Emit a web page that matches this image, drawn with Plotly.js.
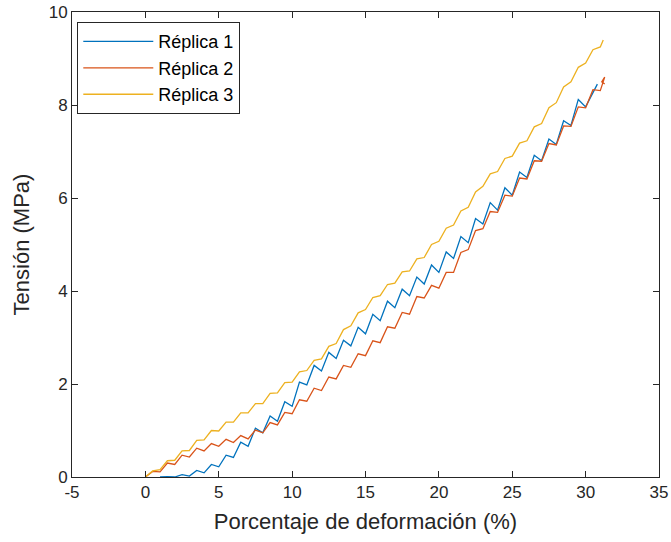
<!DOCTYPE html>
<html>
<head>
<meta charset="utf-8">
<script src="https://cdn.plot.ly/plotly-3.0.1.min.js"></script>
<style>html,body{margin:0;padding:0;background:#fff;}#chart{width:671px;height:542px;}</style>
</head>
<body>
<div id="chart"></div>
<script>
// Réplica 1 (blue)
const r1x = [1.0,1.5,2,2.5,3,3.5,4,4.5,5,5.5,6,6.5,7,7.5,8,8.5,9,9.5,10,10.5,11,11.5,12,12.5,13,13.5,14,14.5,15,15.5,16,16.5,17,17.5,18,18.5,19,19.5,20,20.5,21,21.5,22,22.5,23,23.5,24,24.5,25,25.5,26,26.5,27,27.5,28,28.5,29,29.5,30,30.3,30.8];
const r1y = [0.00,0.01,0.00,0.05,0.02,0.14,0.09,0.27,0.22,0.47,0.42,0.75,0.66,1.05,0.95,1.31,1.20,1.62,1.52,2.04,1.98,2.40,2.28,2.68,2.55,2.94,2.82,3.22,3.08,3.50,3.36,3.78,3.64,4.04,3.90,4.30,4.15,4.56,4.40,4.84,4.70,5.17,5.04,5.56,5.44,5.90,5.74,6.22,6.06,6.56,6.44,6.92,6.80,7.27,7.15,7.66,7.56,8.12,7.96,8.15,8.45];
// Réplica 2 (orange)
const r2x = [0,0.5,1,1.5,2,2.5,3,3.5,4,4.5,5,5.5,6,6.5,7,7.5,8,8.5,9,9.5,10,10.5,11,11.5,12,12.5,13,13.5,14,14.5,15,15.5,16,16.5,17,17.5,18,18.5,19,19.5,20,20.5,21,21.5,22,22.5,23,23.5,24,24.5,25,25.5,26,26.5,27,27.5,28,28.5,29,29.5,30,30.5,31,31.3,31.1,31.3];
const r2y = [0.00,0.12,0.11,0.30,0.27,0.47,0.43,0.62,0.56,0.72,0.66,0.81,0.74,0.89,0.82,1.01,0.95,1.17,1.12,1.39,1.36,1.66,1.63,1.91,1.86,2.15,2.11,2.40,2.36,2.65,2.61,2.93,2.89,3.23,3.20,3.54,3.50,3.88,3.85,4.12,4.06,4.40,4.40,4.83,4.89,5.30,5.34,5.71,5.69,6.06,6.04,6.43,6.41,6.80,6.79,7.17,7.14,7.55,7.54,7.96,7.94,8.33,8.31,8.60,8.50,8.45];
// Réplica 3 (yellow)
const r3x = [0,0.5,1,1.5,2,2.5,3,3.5,4,4.5,5,5.5,6,6.5,7,7.5,8,8.5,9,9.5,10,10.5,11,11.5,12,12.5,13,13.5,14,14.5,15,15.5,16,16.5,17,17.5,18,18.5,19,19.5,20,20.5,21,21.5,22,22.5,23,23.5,24,24.5,25,25.5,26,26.5,27,27.5,28,28.5,29,29.5,30,30.5,31,31.2];
const r3y = [0.00,0.13,0.16,0.35,0.36,0.56,0.57,0.79,0.80,1.00,0.99,1.18,1.18,1.38,1.38,1.58,1.58,1.80,1.81,2.03,2.04,2.26,2.29,2.51,2.54,2.81,2.87,3.17,3.25,3.53,3.60,3.86,3.90,4.14,4.17,4.41,4.43,4.69,4.72,5.00,5.07,5.35,5.42,5.72,5.80,6.13,6.25,6.52,6.57,6.85,6.90,7.18,7.23,7.53,7.60,7.94,8.05,8.39,8.50,8.81,8.90,9.19,9.25,9.40];

const names = ['Réplica 1','Réplica 2','Réplica 3'];
const colors = ['#0072BD','#D95319','#EDB120'];
const xTickVals = [-5,0,5,10,15,20,25,30,35];
const xTickText = ['-5','0','5','10','15','20','25','30','35'];
const yTickVals = [0,2,4,6,8,10];
const yTickText = ['0','2','4','6','8','10'];

const FONT = 'Liberation Sans, Arial, sans-serif';
const traces = [[r1x,r1y],[r2x,r2y],[r3x,r3y]].map((d,i)=>({
  x:d[0], y:d[1], type:'scatter', mode:'lines', name:names[i],
  line:{color:colors[i], width:1.3}
}));

const axisCommon = {
  showline:true, linecolor:'#262626', linewidth:1, mirror:'ticks',
  ticks:'inside', ticklen:6, tickcolor:'#262626', tickwidth:1,
  showgrid:false, zeroline:false,
  tickfont:{family:FONT, size:17, color:'#262626'}
};
const layout = {
  width:671, height:542,
  margin:{l:72, r:12, t:12, b:65},
  paper_bgcolor:'#ffffff', plot_bgcolor:'#ffffff',
  font:{family:FONT, color:'#262626'},
  showlegend:true,
  legend:{x:0.009, y:0.978, xanchor:'left', yanchor:'top',
    bgcolor:'#ffffff', bordercolor:'#262626', borderwidth:1,
    font:{family:FONT, size:18, color:'#000'}, itemwidth:70, tracegroupgap:0},
  xaxis:Object.assign({}, axisCommon, {range:[-5,35], tickvals:xTickVals, ticktext:xTickText,
    title:{text:'Porcentaje de deformación (%)', font:{family:FONT, size:22, color:'#262626'}, standoff:12}}),
  yaxis:Object.assign({}, axisCommon, {range:[0,10], tickvals:yTickVals, ticktext:yTickText,
    title:{text:'Tensión (MPa)', font:{family:FONT, size:22, color:'#262626'}, standoff:12}})
};
Plotly.newPlot('chart', traces, layout, {displayModeBar:false, staticPlot:true});
</script>
</body>
</html>
